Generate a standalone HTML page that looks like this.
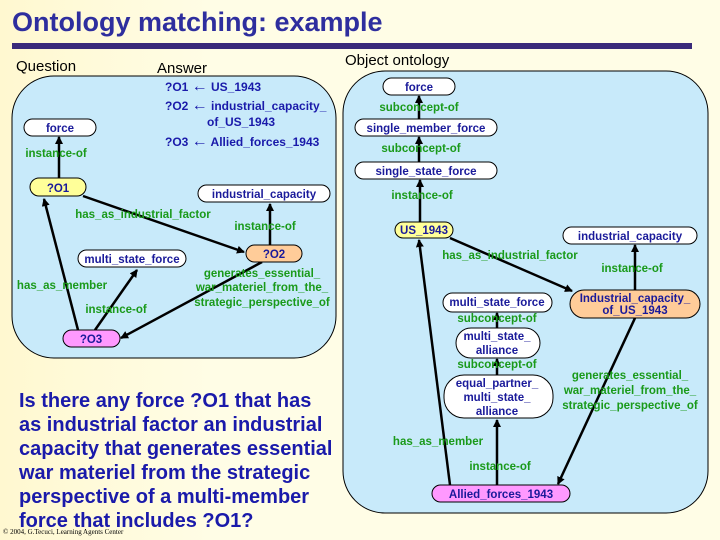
<!DOCTYPE html>
<html><head><style>
html,body{margin:0;padding:0;}
body{width:720px;height:540px;overflow:hidden;background:linear-gradient(90deg,#fff8d0 0%,#fffde6 30%,#fffde6 100%);}
svg{display:block;font-family:"Liberation Sans",Arial,sans-serif;}
.n{fill:#1a1a9a;font-weight:bold;font-size:11.5px;text-anchor:middle;}
.g{fill:#1a9a1a;font-weight:bold;font-size:11.5px;text-anchor:middle;}
.a{fill:#1a1aaa;font-weight:bold;font-size:12px;}
.ar{font-size:16px;}
</style></head><body>
<svg width="720" height="540" viewBox="0 0 720 540">
<defs><marker id="ar" markerWidth="8" markerHeight="8" refX="7" refY="4" orient="auto" markerUnits="userSpaceOnUse"><path d="M0,0 L8,4 L0,8 z" fill="#000"/></marker></defs>
<text x="12" y="31" font-size="27" font-weight="bold" fill="#2e2e9e">Ontology matching: example</text>
<rect x="12" y="43" width="680" height="6" fill="#3a2a7a"/>
<text x="16" y="71" font-size="15" fill="#000">Question</text>
<text x="157" y="73" font-size="15" fill="#000">Answer</text>
<text x="345" y="65" font-size="15" fill="#000">Object ontology</text>
<rect x="12" y="76" width="324" height="282" rx="42" fill="#c8eafa" stroke="#000"/>
<rect x="343" y="71" width="365" height="442" rx="42" fill="#c8eafa" stroke="#000"/>
<text class="a" x="165" y="91">?O1 <tspan class="ar">←</tspan> US_1943</text>
<text class="a" x="165" y="110">?O2 <tspan class="ar">←</tspan> industrial_capacity_</text>
<text class="a" x="207" y="126">of_US_1943</text>
<text class="a" x="165" y="146">?O3 <tspan class="ar">←</tspan> Allied_forces_1943</text>
<g stroke="#000" stroke-width="2.5" fill="none" marker-end="url(#ar)">
<line x1="59" y1="178" x2="59" y2="137"/>
<line x1="83" y1="196" x2="244" y2="252"/>
<line x1="270" y1="245" x2="270" y2="204"/>
<line x1="95" y1="330" x2="137" y2="270"/>
<line x1="78" y1="330" x2="44" y2="199"/>
<line x1="262" y1="262" x2="121" y2="338"/>
<line x1="419" y1="120" x2="419" y2="96"/>
<line x1="419" y1="162" x2="419" y2="137"/>
<line x1="420" y1="222" x2="420" y2="180"/>
<line x1="450" y1="238" x2="572" y2="291"/>
<line x1="635" y1="290" x2="635" y2="245"/>
<line x1="450" y1="485" x2="419" y2="240"/>
<line x1="635" y1="318" x2="558" y2="484"/>
<line x1="497" y1="328" x2="497" y2="313"/>
<line x1="497" y1="375" x2="497" y2="359"/>
<line x1="497" y1="485" x2="497" y2="420"/>
</g>
<g stroke="#000" stroke-width="1">
<rect x="24" y="119" width="72" height="17" rx="8.5" fill="#fff"/>
<rect x="30" y="178" width="56" height="18" rx="9" fill="#ffff99"/>
<rect x="198" y="185" width="132" height="17" rx="8.5" fill="#fff"/>
<rect x="246" y="245" width="56" height="17" rx="8.5" fill="#ffcc99"/>
<rect x="78" y="250" width="108" height="17" rx="8.5" fill="#fff"/>
<rect x="63" y="330" width="57" height="17" rx="8.5" fill="#ff99ff"/>
<rect x="383" y="78" width="72" height="17" rx="8.5" fill="#fff"/>
<rect x="355" y="119" width="142" height="17" rx="8.5" fill="#fff"/>
<rect x="355" y="162" width="142" height="17" rx="8.5" fill="#fff"/>
<rect x="395" y="222" width="58" height="16" rx="8" fill="#ffff99"/>
<rect x="563" y="227" width="134" height="17" rx="8.5" fill="#fff"/>
<rect x="570" y="290" width="130" height="28" rx="14" fill="#ffcc99"/>
<rect x="443" y="293" width="109" height="19" rx="9.5" fill="#fff"/>
<rect x="456" y="328" width="84" height="30" rx="15" fill="#fff"/>
<rect x="444" y="375" width="109" height="43" rx="20" fill="#fff"/>
<rect x="432" y="485" width="138" height="17" rx="8.5" fill="#ff99ff"/>
</g>
<text class="n" x="60" y="132">force</text>
<text class="n" x="58" y="192">?O1</text>
<text class="n" x="264" y="198">industrial_capacity</text>
<text class="n" x="274" y="258">?O2</text>
<text class="n" x="132" y="263">multi_state_force</text>
<text class="n" x="91" y="343">?O3</text>
<text class="g" x="56" y="157">instance-of</text>
<text class="g" x="143" y="218">has_as_industrial_factor</text>
<text class="g" x="265" y="230">instance-of</text>
<text class="g" x="62" y="289">has_as_member</text>
<text class="g" x="116" y="313">instance-of</text>
<text class="g" x="262" y="277">generates_essential_</text>
<text class="g" x="262" y="291">war_materiel_from_the_</text>
<text class="g" x="262" y="306">strategic_perspective_of</text>
<text class="n" x="419" y="91">force</text>
<text class="n" x="426" y="132">single_member_force</text>
<text class="n" x="426" y="175">single_state_force</text>
<text class="n" x="424" y="234">US_1943</text>
<text class="n" x="630" y="240">industrial_capacity</text>
<text class="n" x="635" y="302">Industrial_capacity_</text>
<text class="n" x="635" y="314">of_US_1943</text>
<text class="n" x="497" y="306">multi_state_force</text>
<text class="n" x="497" y="340">multi_state_</text>
<text class="n" x="497" y="354">alliance</text>
<text class="n" x="497" y="387">equal_partner_</text>
<text class="n" x="497" y="401">multi_state_</text>
<text class="n" x="497" y="415">alliance</text>
<text class="n" x="501" y="498">Allied_forces_1943</text>
<text class="g" x="419" y="111">subconcept-of</text>
<text class="g" x="421" y="152">subconcept-of</text>
<text class="g" x="422" y="199">instance-of</text>
<text class="g" x="510" y="259">has_as_industrial_factor</text>
<text class="g" x="632" y="272">instance-of</text>
<text class="g" x="497" y="322">subconcept-of</text>
<text class="g" x="497" y="368">subconcept-of</text>
<text class="g" x="630" y="379">generates_essential_</text>
<text class="g" x="630" y="394">war_materiel_from_the_</text>
<text class="g" x="630" y="409">strategic_perspective_of</text>
<text class="g" x="438" y="445">has_as_member</text>
<text class="g" x="500" y="470">instance-of</text>
<g font-size="20" font-weight="bold" fill="#1a1aaa">
<text x="19" y="407">Is there any force ?O1 that has</text>
<text x="19" y="431">as industrial factor an industrial</text>
<text x="19" y="455">capacity that generates essential</text>
<text x="19" y="479">war materiel from the strategic</text>
<text x="19" y="503">perspective of a multi-member</text>
<text x="19" y="527">force that includes ?O1?</text>
</g>
<text x="3" y="534" font-size="7" font-family="Liberation Serif,serif" fill="#000">© 2004, G.Tecuci, Learning Agents Center</text>
</svg>
</body></html>
